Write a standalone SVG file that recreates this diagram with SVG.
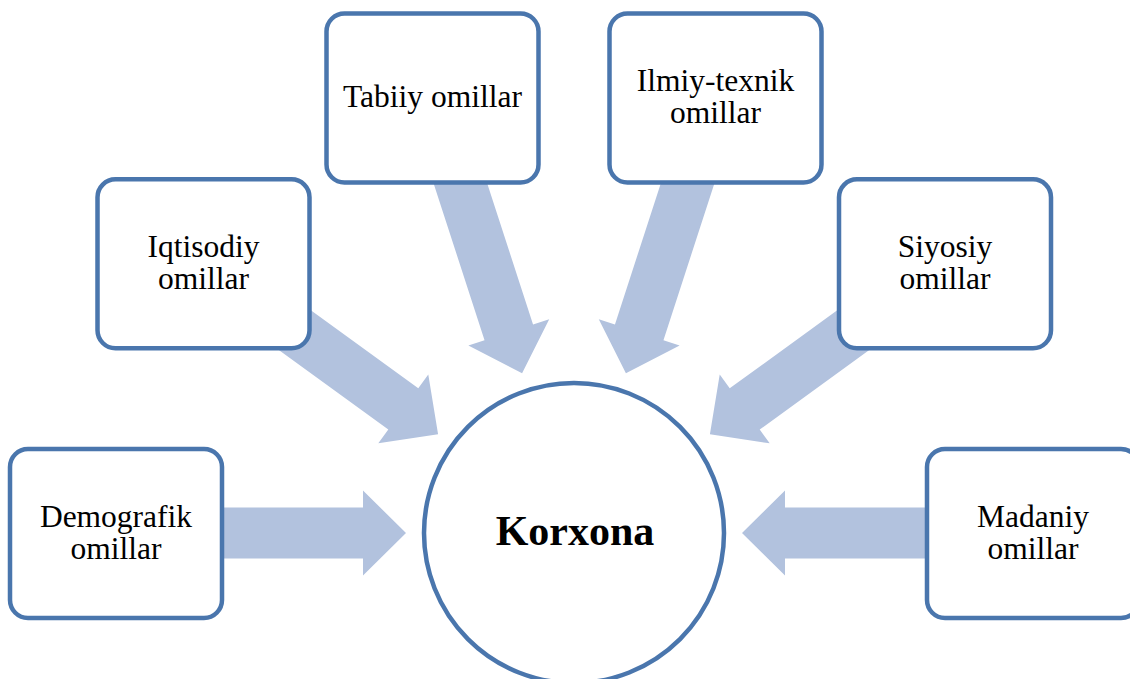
<svg xmlns="http://www.w3.org/2000/svg" width="1130" height="679" viewBox="0 0 1130 679">
  <defs>
    <style>
      .box { fill: #ffffff; stroke: #4a76ad; stroke-width: 4.5; }
      .hub { fill: #ffffff; stroke: #4a76ad; stroke-width: 4.5; }
      .arr { fill: #b2c2de; stroke: none; }
      .lbl { font-family: "Liberation Serif", "Times New Roman", serif; font-size: 31.5px; fill: #000000; text-anchor: middle; }
      .hubl { font-family: "Liberation Serif", "Times New Roman", serif; font-size: 42px; font-weight: bold; fill: #000000; text-anchor: middle; }
    </style>
    <path id="arrow" d="M168,0 L211,-42.5 L211,-25.5 L380,-25.5 L380,25.5 L211,25.5 L211,42.5 Z"/>
  </defs>
  <rect width="1130" height="679" fill="#ffffff"/>

  <g id="connectors" transform="translate(574,533)">
    <use href="#arrow" class="arr" transform="rotate(-180)"/>
    <use href="#arrow" class="arr" transform="rotate(-144)"/>
    <use href="#arrow" class="arr" transform="rotate(-108)"/>
    <use href="#arrow" class="arr" transform="rotate(-72)"/>
    <use href="#arrow" class="arr" transform="rotate(-36)"/>
    <use href="#arrow" class="arr"/>
  </g>

  <g id="korxona">
    <circle class="hub" cx="574" cy="533" r="150"/>
    <text class="hubl" x="575" y="545">Korxona</text>
  </g>

  <g id="demografik">
    <rect class="box" x="10" y="449" width="212" height="169" rx="18"/>
    <text class="lbl" x="116" y="527">Demografik</text>
    <text class="lbl" x="116" y="559">omillar</text>
  </g>

  <g id="iqtisodiy">
    <rect class="box" x="97.5" y="179.3" width="212" height="169" rx="18"/>
    <text class="lbl" x="203.5" y="257">Iqtisodiy</text>
    <text class="lbl" x="203.5" y="289">omillar</text>
  </g>

  <g id="tabiiy">
    <rect class="box" x="326.5" y="13.5" width="212" height="169" rx="18"/>
    <text class="lbl" x="432.5" y="107">Tabiiy omillar</text>
  </g>

  <g id="ilmiy-texnik">
    <rect class="box" x="609.5" y="13.5" width="212" height="169" rx="18"/>
    <text class="lbl" x="715.5" y="91">Ilmiy-texnik</text>
    <text class="lbl" x="715.5" y="123">omillar</text>
  </g>

  <g id="siyosiy">
    <rect class="box" x="839" y="179.3" width="212" height="169" rx="18"/>
    <text class="lbl" x="945" y="257">Siyosiy</text>
    <text class="lbl" x="945" y="289">omillar</text>
  </g>

  <g id="madaniy">
    <rect class="box" x="927" y="449" width="212" height="169" rx="18"/>
    <text class="lbl" x="1033" y="527">Madaniy</text>
    <text class="lbl" x="1033" y="559">omillar</text>
  </g>
</svg>
